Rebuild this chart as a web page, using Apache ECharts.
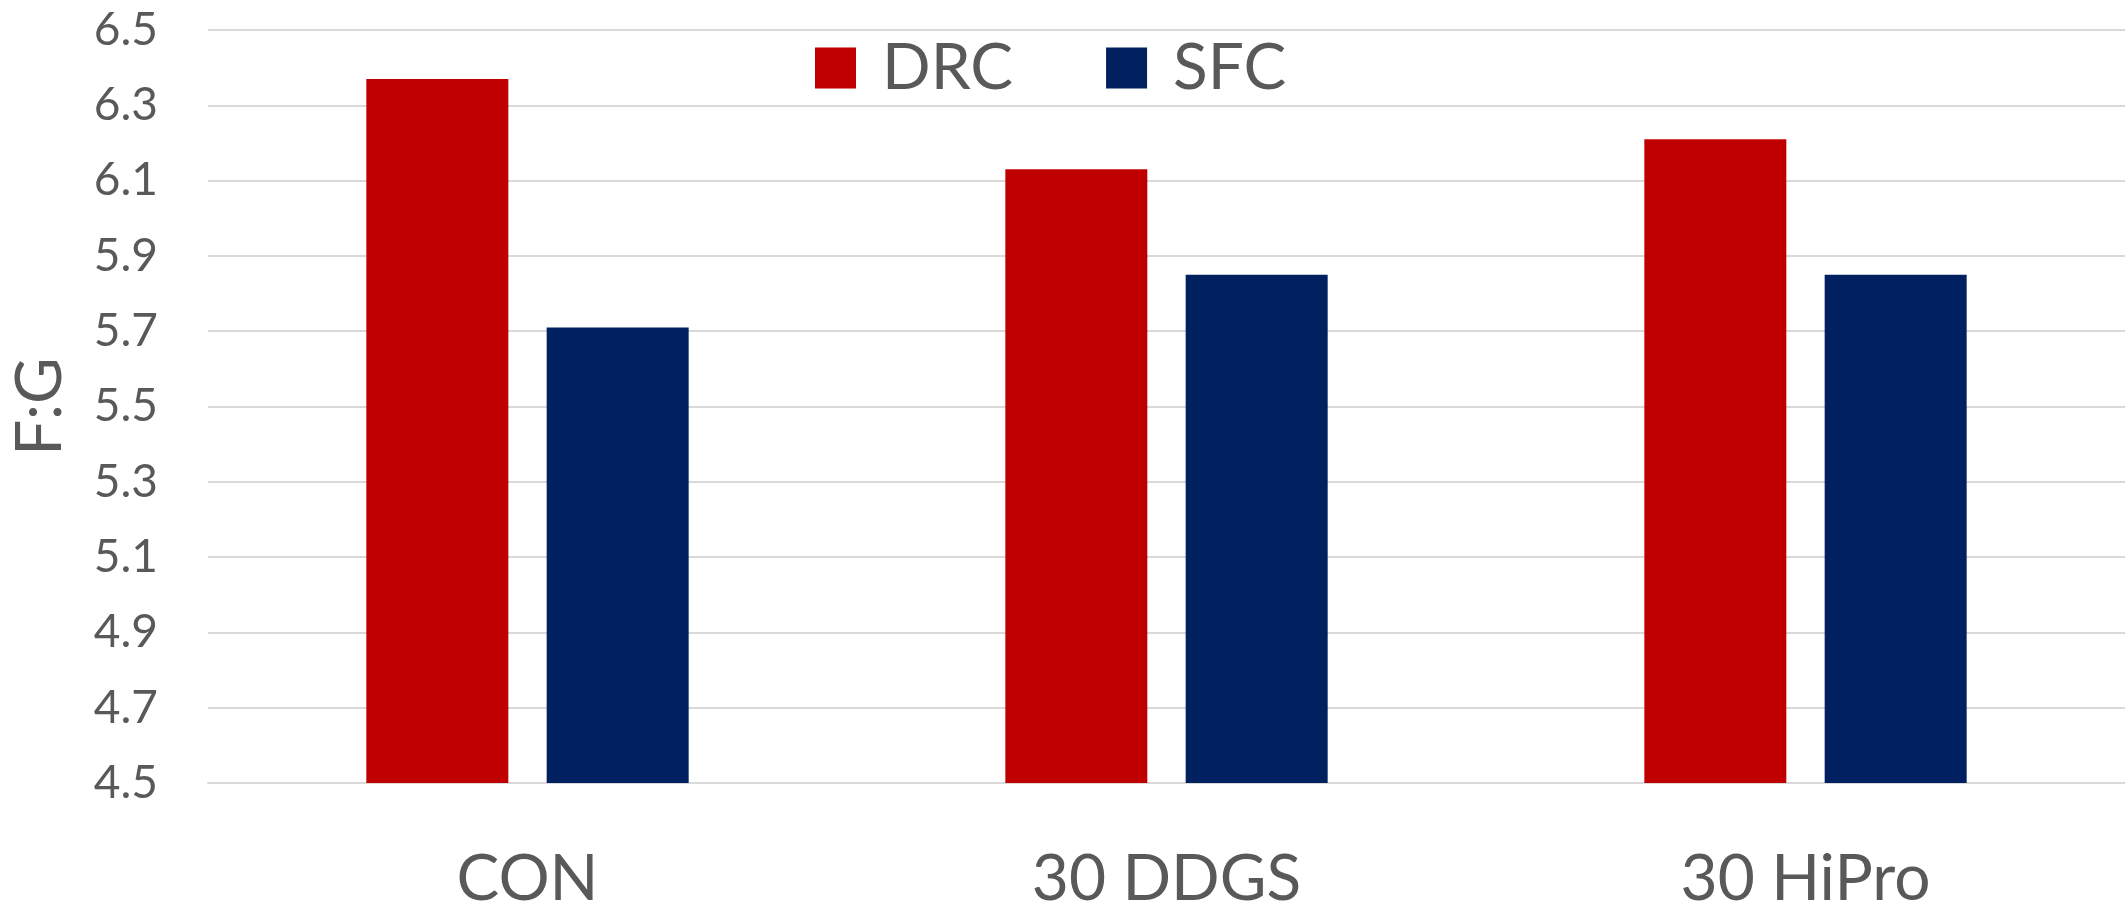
<!DOCTYPE html>
<html>
<head>
<meta charset="utf-8">
<script src="https://cdn.jsdelivr.net/npm/echarts@6/dist/echarts.min.js"></script>
<style>
  html, body { margin: 0; padding: 0; background: #ffffff; }
  #chart { width: 2125px; height: 911px; }
</style>
</head>
<body>
<div id="chart"></div>
<script>
// Feed-to-gain ratio by diet, for two groups
const categories = ['CON', '30 DDGS', '30 HiPro'];
const drcValues = [6.37, 6.13, 6.21];
const sfcValues = [5.71, 5.85, 5.85];
const seriesNames = ['DRC', 'SFC'];
const yMin = 4.5;
const yMax = 6.5;
const yStep = 0.2;

const textColor = '#595959';
const gridColor = '#D9D9D9';
const fontFamily = 'Lato, "Open Sans", sans-serif';

const chart = echarts.init(document.getElementById('chart'), null, { renderer: 'canvas' });

chart.setOption({
  animation: false,
  backgroundColor: '#ffffff',
  grid: { left: 208, right: 0, top: 30, bottom: 124, containLabel: false },
  legend: {
    data: seriesNames,
    left: 815,
    top: 36,
    padding: 0,
    itemWidth: 41,
    itemHeight: 41,
    itemGap: 93,
    icon: 'rect',
    textStyle: {
      color: textColor,
      fontFamily: fontFamily,
      fontSize: 64,
      width: 118,
      padding: [0, 0, 0, 21]
    }
  },
  xAxis: {
    type: 'category',
    data: categories,
    axisLine: { show: true, lineStyle: { color: gridColor, width: 2 } },
    axisTick: { show: false },
    axisLabel: {
      color: textColor,
      fontFamily: fontFamily,
      fontSize: 64,
      margin: 64
    }
  },
  yAxis: {
    type: 'value',
    min: yMin,
    max: yMax,
    interval: yStep,
    name: 'F:G',
    nameLocation: 'middle',
    nameGap: 136,
    nameRotate: 90,
    nameTextStyle: {
      color: textColor,
      fontFamily: fontFamily,
      fontSize: 64
    },
    axisLine: { show: false },
    axisTick: { show: false },
    axisLabel: {
      color: textColor,
      fontFamily: fontFamily,
      fontSize: 46,
      margin: 50,
      formatter: function (v) { return v.toFixed(1); }
    },
    splitLine: { show: true, lineStyle: { color: gridColor, width: 2 } }
  },
  series: [
    {
      name: seriesNames[0],
      type: 'bar',
      data: drcValues,
      barWidth: 142,
      barGap: '27%',
      itemStyle: { color: '#C00000' }
    },
    {
      name: seriesNames[1],
      type: 'bar',
      data: sfcValues,
      barWidth: 142,
      barGap: '27%',
      itemStyle: { color: '#002060' }
    }
  ]
});
</script>
</body>
</html>
